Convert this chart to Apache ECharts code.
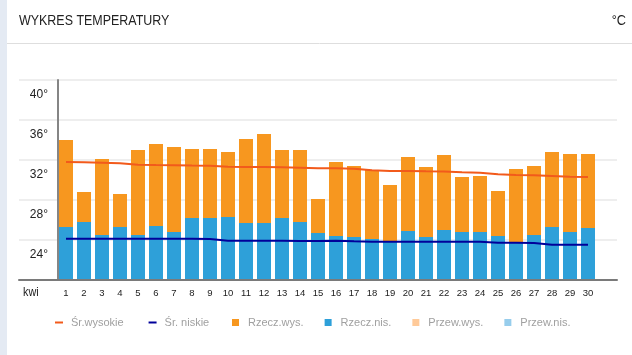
<!DOCTYPE html>
<html>
<head>
<meta charset="utf-8">
<script src="https://cdn.jsdelivr.net/npm/echarts@6/dist/echarts.min.js"></script>
<style>html,body{margin:0;padding:0;background:#fff}#c{width:632px;height:355px}</style>
</head>
<body>
<div id="c"></div>
<script>
var FONT = "'Liberation Sans', Arial, sans-serif";
var days = ['1','2','3','4','5','6','7','8','9','10','11','12','13','14','15','16','17','18','19','20','21','22','23','24','25','26','27','28','29','30'];
var actualHigh = [34.0,28.8,32.1,28.6,33.0,33.6,33.3,33.1,33.1,32.8,34.1,34.6,33.0,33.0,28.1,31.8,31.4,31.0,29.5,32.3,31.3,32.5,30.3,30.4,28.9,31.1,31.4,32.8,32.6,32.6];
var actualLow = [25.3,25.8,24.5,25.3,24.5,25.4,24.8,26.2,26.2,26.3,25.7,25.7,26.2,25.8,24.7,24.4,24.3,24.1,23.8,24.9,24.3,25.0,24.8,24.8,24.4,23.8,24.5,25.3,24.8,25.2];
var avgHigh = [31.8,31.78,31.73,31.67,31.53,31.5,31.48,31.45,31.43,31.33,31.3,31.3,31.27,31.23,31.17,31.17,31.13,30.97,30.9,30.9,30.87,30.85,30.77,30.73,30.57,30.5,30.47,30.4,30.33,30.3];
var avgLow = [24.13,24.13,24.13,24.13,24.13,24.13,24.13,24.13,24.1,23.93,23.93,23.93,23.92,23.9,23.9,23.93,23.87,23.83,23.83,23.83,23.83,23.83,23.83,23.83,23.73,23.73,23.7,23.53,23.53,23.53];
var forecastHigh = [];
var forecastLow = [];
var yMin = 20, yMax = 40, yStep = 4;

var chart = echarts.init(document.getElementById('c'), null, {renderer:'canvas'});
chart.setOption({
  animation: false,
  backgroundColor: '#fff',
  graphic: [
    {type:'rect', shape:{x:0,y:0,width:7,height:355}, style:{fill:'#e4eaf3'}, silent:true},
    {type:'line', shape:{x1:7,y1:43.5,x2:632,y2:43.5}, style:{stroke:'#dedede',lineWidth:1}, silent:true},
    {type:'text', x:19, y:21, scaleX:0.83, style:{text:'WYKRES TEMPERATURY', fontSize:15, fontFamily:FONT, fill:'#222', align:'left', verticalAlign:'middle'}},
    {type:'text', x:626, y:21, scaleX:0.85, style:{text:'°C', fontSize:15, fontFamily:FONT, fill:'#222', align:'right', verticalAlign:'middle'}},
    {type:'text', x:23, y:293, scaleX:0.9, style:{text:'kwi', fontSize:12, fontFamily:FONT, fill:'#222', align:'left', verticalAlign:'middle'}}
  ],
  legend: [
    {
      data: ['Śr.wysokie','Śr. niskie'],
      left: 55, top: 317, padding: 0,
      icon: 'rect', itemWidth: 8, itemHeight: 2, itemGap: 25,
      textStyle: {color:'#a0a0a0', fontSize:11, fontFamily:FONT, padding:[0,0,0,3]}
    },
    {
      data: ['Rzecz.wys.','Rzecz.nis.','Przew.wys.','Przew.nis.'],
      left: 232, top: 317, padding: 0,
      icon: 'rect', itemWidth: 7, itemHeight: 7, itemGap: 21,
      textStyle: {color:'#a0a0a0', fontSize:11, fontFamily:FONT, padding:[0,0,0,4]}
    }
  ],
  grid: [
    {left:19, right:15, top:80, bottom:75},
    {left:57, width:540, top:80, bottom:75}
  ],
  xAxis: [
    {gridIndex:0, type:'category', data:['',''], boundaryGap:false, z:5,
     axisLine:{show:true, lineStyle:{color:'#7a7a7a', width:2}},
     axisTick:{show:false}, axisLabel:{show:false}, splitLine:{show:false}},
    {gridIndex:1, type:'category', data:days, boundaryGap:true,
     axisLine:{show:false}, axisTick:{show:false},
     axisLabel:{show:true, interval:0, color:'#222', fontSize:9.5, fontFamily:FONT, margin:8}}
  ],
  yAxis: [
    {gridIndex:0, type:'value', min:yMin, max:yMax, interval:yStep,
     axisLine:{show:false}, axisTick:{show:false}, axisLabel:{show:false},
     splitLine:{show:true, lineStyle:{color:'#eeeeee', width:2}}},
    {gridIndex:1, type:'value', min:yMin, max:yMax, interval:yStep, offset:-1, z:5,
     axisLine:{show:true, lineStyle:{color:'#858585', width:2}}, axisTick:{show:false},
     splitLine:{show:false},
     axisLabel:{show:true, showMinLabel:false, color:'#222', fontSize:12, fontFamily:FONT, margin:10,
       verticalAlign:'top', padding:[9,0,0,0], formatter:function(v){return v+'°';}}}
  ],
  series: [
    {name:'Rzecz.wys.', type:'bar', xAxisIndex:1, yAxisIndex:1, data:actualHigh, barWidth:14, barGap:'-100%', itemStyle:{color:'#f7971f'}},
    {name:'Rzecz.nis.', type:'bar', xAxisIndex:1, yAxisIndex:1, data:actualLow, barWidth:14, barGap:'-100%', itemStyle:{color:'#2ea0d9'}},
    {name:'Przew.wys.', type:'bar', xAxisIndex:1, yAxisIndex:1, data:forecastHigh, barWidth:14, barGap:'-100%', itemStyle:{color:'#ffca99'}},
    {name:'Przew.nis.', type:'bar', xAxisIndex:1, yAxisIndex:1, data:forecastLow, barWidth:14, barGap:'-100%', itemStyle:{color:'#97cdec'}},
    {name:'Śr.wysokie', type:'line', xAxisIndex:1, yAxisIndex:1, data:avgHigh, showSymbol:false, symbol:'none', lineStyle:{color:'#f25a1b', width:2}, itemStyle:{color:'#f25a1b'}},
    {name:'Śr. niskie', type:'line', xAxisIndex:1, yAxisIndex:1, data:avgLow, showSymbol:false, symbol:'none', lineStyle:{color:'#00009a', width:2}, itemStyle:{color:'#00009a'}}
  ]
});
</script>
</body>
</html>
